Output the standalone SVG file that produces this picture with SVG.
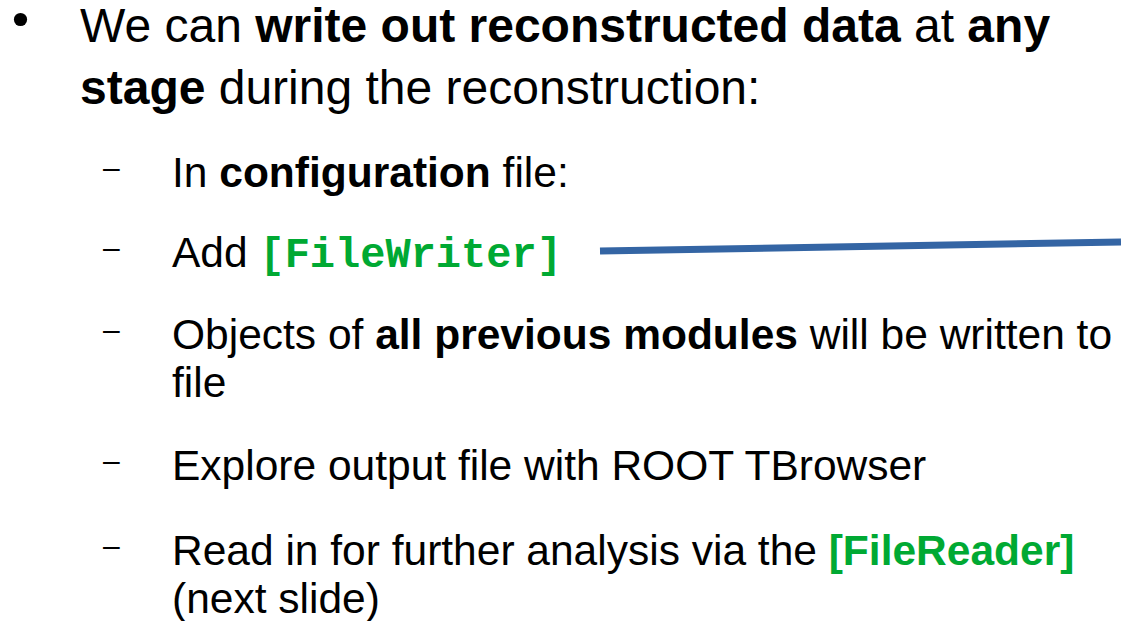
<svg xmlns="http://www.w3.org/2000/svg" width="1121" height="621" viewBox="0 0 1121 621">
<style>
text{font-family:"Liberation Sans",Arial,sans-serif;fill:#000}
.m{font-size:48px}
.s{font-size:42.5px}
.b{font-weight:bold}
.g{fill:#00a933;font-weight:bold}
.mono{font-family:"Liberation Mono","Courier New",monospace;font-size:42px}
.d{font-size:30px}
</style>
<rect width="1121" height="621" fill="#fff"/>
<g id="bullet-main">
<circle cx="20.5" cy="19.5" r="6.6" fill="#000"/>
<text class="m" x="80" y="42">We can <tspan class="b">write out reconstructed data</tspan> at <tspan class="b">any</tspan></text>
<text class="m" x="80" y="104"><tspan class="b">stage</tspan> during the reconstruction:</text>
</g>
<g id="item-config">
<text class="d" x="103" y="178">–</text>
<text class="s" x="172" y="187">In <tspan class="b">configuration</tspan> file:</text>
</g>
<g id="item-filewriter">
<text class="d" x="103" y="258">–</text>
<text class="s" x="172" y="267">Add <tspan class="g mono">[FileWriter]</tspan></text>
</g>
<g id="item-objects">
<text class="d" x="103" y="340">–</text>
<text class="s" x="172" y="349">Objects of <tspan class="b">all previous modules</tspan> will be written to</text>
<text class="s" x="172" y="397">file</text>
</g>
<g id="item-explore">
<text class="d" x="103" y="471">–</text>
<text class="s" x="172" y="480">Explore output file with ROOT TBrowser</text>
</g>
<g id="item-read">
<text class="d" x="103" y="556">–</text>
<text class="s" x="172" y="565">Read in for further analysis via the <tspan class="g">[FileReader]</tspan></text>
<text class="s" x="172" y="613">(next slide)</text>
</g>
<g id="connectors">
<line x1="600" y1="251" x2="1121" y2="242" stroke="#3465a4" stroke-width="7"/>
</g>
</svg>
